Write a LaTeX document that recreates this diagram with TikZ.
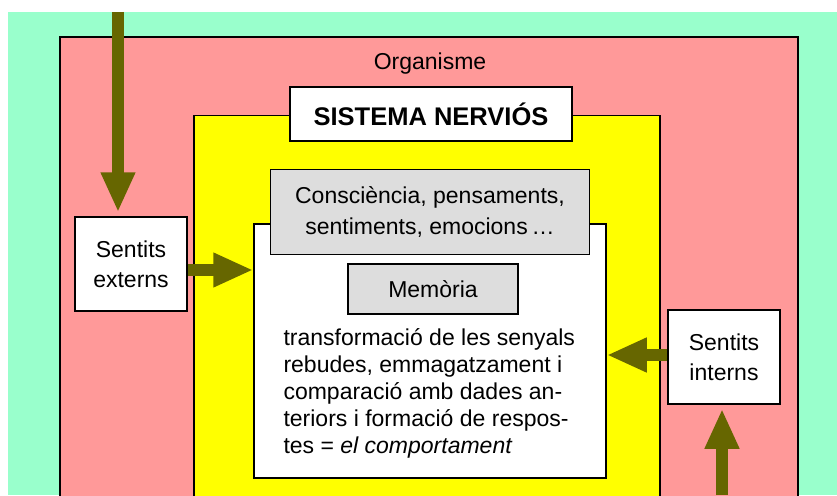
\documentclass[tikz,border=0pt]{standalone}
\usepackage{fontspec}
\setmainfont{Liberation Sans}
\usepackage{xcolor}
\usetikzlibrary{arrows.meta}
\definecolor{menta}{HTML}{99FFCC}
\definecolor{rosa}{HTML}{FF9999}
\definecolor{groc}{HTML}{FFFF00}
\definecolor{gris}{HTML}{DDDDDD}
\definecolor{oliva}{HTML}{666600}

\begin{document}
\begin{tikzpicture}[x=1pt,y=-1pt,
    caixa/.style={draw,line width=1.5pt,inner sep=0pt,align=center},
    lletra/.style={font=\fontsize{23}{30}\selectfont},
    fletxa/.style={line width=12pt,color=oliva,-{Triangle[length=40pt,width=32pt]}}]
    \path[use as bounding box,clip] (0,0) rectangle (837,495);
    \fill[white] (0,0) rectangle (837,495);
    \fill[menta] (8,12) rectangle (837,495);
    \node[caixa,fill=rosa,minimum width=738pt,minimum height=482pt] (org) at (429,278) {};
    \node[lletra,anchor=base] (orgtxt) at (430,69) {Organisme};
    \node[caixa,fill=groc,minimum width=466pt,minimum height=405pt] (sn) at (427,318) {};
    \node[caixa,fill=white,minimum width=282pt,minimum height=54pt,font=\bfseries\fontsize{25.5}{30}\selectfont] (titol) at (431,114) {SISTEMA NERVIÓS};
    \node[caixa,fill=white,minimum width=352pt,minimum height=254pt] (main) at (430,351) {};
    \node[caixa,fill=gris,minimum width=319pt,minimum height=85pt,font=\fontsize{23}{32}\selectfont] (cons) at (430,212) {Consciència, pensaments,\\sentiments, emocions\,…};
    \node[caixa,fill=gris,minimum width=170pt,minimum height=50pt,lletra] (mem) at (433,289) {Memòria};
    \node[anchor=base west,align=left,font=\fontsize{23}{27}\selectfont] (proc) at (280,453) {transformació de les senyals\\rebudes, emmagatzament i\\comparació amb dades an-\\teriors i formació de respos-\\tes = \textit{el comportament}};
    \node[caixa,fill=white,minimum width=112pt,minimum height=94pt,lletra] (ext) at (131,264) {Sentits\\externs};
    \node[caixa,fill=white,minimum width=112pt,minimum height=94pt,lletra] (int) at (724,357) {Sentits\\interns};
    \coordinate (dalt) at (118,12);
    \coordinate (baix) at (722,495);
    \draw[fletxa,shorten >=4pt] (dalt) -- (dalt |- ext.north);
    \draw[fletxa] ([yshift=-6pt]ext.east) -- ([yshift=-6pt]ext.east -| main.west);
    \draw[fletxa] ([yshift=2pt]int.west) -- ([yshift=2pt]int.west -| main.east);
    \draw[fletxa,shorten >=4pt] (baix) -- (baix |- int.south);
\end{tikzpicture}
\end{document}
